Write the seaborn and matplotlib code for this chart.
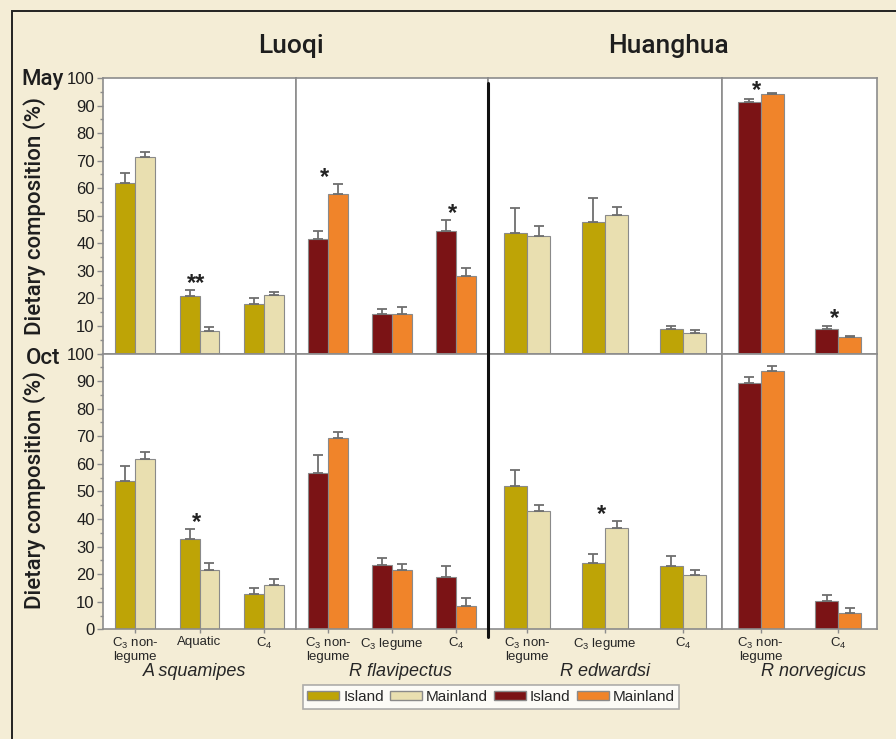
import matplotlib
matplotlib.use("Agg")
import matplotlib.pyplot as plt
import seaborn as sns
import pandas as pd
from matplotlib.patches import Patch, Rectangle
from matplotlib.lines import Line2D
from matplotlib.ticker import MultipleLocator

# --- data ---
species = ["A squamipes", "R flavipectus", "R edwardsi", "R norvegicus"]
sites = ["Luoqi", "Huanghua"]
months = ["May", "Oct"]
origins = ["Island", "Mainland"]

foods_asq = ["C$_3$ non-\nlegume", "Aquatic", "C$_4$"]
foods_rfl = ["C$_3$ non-\nlegume", "C$_3$ legume", "C$_4$"]
foods_red = ["C$_3$ non-\nlegume", "C$_3$ legume", "C$_4$"]
foods_rno = ["C$_3$ non-\nlegume", "C$_4$"]

# May
may_asq_island = [61.8, 20.9, 17.9]
may_asq_island_se = [3.6, 2.0, 2.1]
may_asq_main = [71.3, 8.2, 21.1]
may_asq_main_se = [1.8, 1.4, 1.3]
may_rfl_island = [41.7, 14.2, 44.4]
may_rfl_island_se = [2.6, 2.0, 3.9]
may_rfl_main = [57.8, 14.2, 28.3]
may_rfl_main_se = [3.7, 2.5, 2.6]
may_red_island = [43.8, 47.9, 9.0]
may_red_island_se = [8.9, 8.5, 1.1]
may_red_main = [42.7, 50.4, 7.3]
may_red_main_se = [3.6, 2.7, 1.1]
may_rno_island = [91.2, 9.0]
may_rno_island_se = [1.0, 1.1]
may_rno_main = [94.3, 6.0]
may_rno_main_se = [0.4, 0.4]

# Oct
oct_asq_island = [53.7, 32.7, 12.9]
oct_asq_island_se = [5.5, 3.5, 1.9]
oct_asq_main = [61.6, 21.6, 16.0]
oct_asq_main_se = [2.6, 2.4, 2.2]
oct_rfl_island = [56.7, 23.3, 18.9]
oct_rfl_island_se = [6.5, 2.7, 4.0]
oct_rfl_main = [69.3, 21.5, 8.4]
oct_rfl_main_se = [2.4, 2.1, 2.8]
oct_red_island = [51.9, 24.2, 23.0]
oct_red_island_se = [5.8, 3.2, 3.4]
oct_red_main = [42.9, 36.6, 19.7]
oct_red_main_se = [2.0, 2.5, 1.7]
oct_rno_island = [89.4, 10.4]
oct_rno_island_se = [2.2, 2.0]
oct_rno_main = [93.6, 5.9]
oct_rno_main_se = [1.8, 1.7]

# significance marks
may_stars = [["", "**", ""], ["*", "", "*"], ["", "", ""], ["*", "*"]]
oct_stars = [["", "*", ""], ["", "", ""], ["", "*", ""], ["", ""]]

# --- style ---
BG = "#f4edd6"
OLIVE = "#bea406"
CREAM = "#e9dfb0"
DARKRED = "#7b1315"
ORANGE = "#f0842a"
SPINE = "#8c8c8c"

sns.set_style("ticks")
plt.rcParams["font.family"] = ["Liberation Sans", "DejaVu Sans"]
plt.rcParams["mathtext.fontset"] = "custom"
plt.rcParams["mathtext.rm"] = "Liberation Sans"
plt.rcParams["mathtext.it"] = "Liberation Sans:italic"

W, H = 896, 739
fig = plt.figure(figsize=(W / 100, H / 100), dpi=100, facecolor=BG)

# outer frame (cut off at right/bottom like the source)
fig.patches.append(Rectangle((12 / W, -0.1), 1.2, 1 - 10.5 / H + 0.1, transform=fig.transFigure,
                             fill=False, edgecolor="#222222", linewidth=1.4, zorder=0))

HEAD = dict(family=["Roboto", "Liberation Sans"], fontweight="medium", color="#1e1e1e")


def px(x, y):
    return x / W, 1 - y / H


def draw_panel(ax, foods, isl, isl_se, mai, mai_se, stars, colors, width):
    n = len(foods)
    df = pd.DataFrame({
        "food": foods * 2,
        "origin": ["Island"] * n + ["Mainland"] * n,
        "value": isl + mai,
    })
    sns.barplot(data=df, x="food", y="value", hue="origin", order=foods,
                palette=colors, width=width, saturation=1, errorbar=None,
                edgecolor="#8a8a8a", linewidth=0.8, legend=False, ax=ax, zorder=2)
    for cont, errs in zip(ax.containers, [isl_se, mai_se]):
        for bar, e in zip(cont, errs):
            xc = bar.get_x() + bar.get_width() / 2
            ax.errorbar(xc, bar.get_height(), yerr=[[0], [e]], color="#6e6e6e",
                        capsize=3.5, elinewidth=1.3, capthick=1.3, zorder=3)
    for i, s in enumerate(stars):
        if s:
            top = max(isl[i] + isl_se[i], mai[i] + mai_se[i])
            ax.text(i - 0.05, min(top + 2.5, 95.5), s, ha="center", va="center",
                    fontsize=17, fontweight="bold", color="#222222", zorder=4)
    ax.set_xlim(-0.5, n - 0.5)
    ax.set_ylim(0, 100)
    ax.set_xlabel("")
    ax.set_ylabel("")
    ax.set_facecolor("white")
    for sp in ax.spines.values():
        sp.set_visible(True)
        sp.set_color(SPINE)
        sp.set_linewidth(1.2)


panel_x = [103, 296, 488, 722, 877]
row_y = [(78, 353.5), (353.5, 629.3)]
bar_width = [0.62, 0.62, 0.59, 0.59]
panel_colors = [[OLIVE, CREAM], [DARKRED, ORANGE], [OLIVE, CREAM], [DARKRED, ORANGE]]
panel_foods = [foods_asq, foods_rfl, foods_red, foods_rno]

rows = [
    [(may_asq_island, may_asq_island_se, may_asq_main, may_asq_main_se),
     (may_rfl_island, may_rfl_island_se, may_rfl_main, may_rfl_main_se),
     (may_red_island, may_red_island_se, may_red_main, may_red_main_se),
     (may_rno_island, may_rno_island_se, may_rno_main, may_rno_main_se)],
    [(oct_asq_island, oct_asq_island_se, oct_asq_main, oct_asq_main_se),
     (oct_rfl_island, oct_rfl_island_se, oct_rfl_main, oct_rfl_main_se),
     (oct_red_island, oct_red_island_se, oct_red_main, oct_red_main_se),
     (oct_rno_island, oct_rno_island_se, oct_rno_main, oct_rno_main_se)],
]
row_stars = [may_stars, oct_stars]

for r in range(2):
    y0, y1 = row_y[r]
    for p in range(4):
        x0, x1 = panel_x[p], panel_x[p + 1]
        ax = fig.add_axes([x0 / W, 1 - y1 / H, (x1 - x0) / W, (y1 - y0) / H])
        isl, isl_se, mai, mai_se = rows[r][p]
        draw_panel(ax, panel_foods[p], isl, isl_se, mai, mai_se,
                   row_stars[r][p], panel_colors[p], bar_width[p])
        if p == 0:
            ax.yaxis.set_major_locator(MultipleLocator(10))
            ax.yaxis.set_minor_locator(MultipleLocator(5))
            ax.tick_params(axis="y", which="major", length=4, width=1, color=SPINE,
                           labelsize=12, pad=2, labelcolor="#1e1e1e")
            ax.tick_params(axis="y", which="minor", length=2.5, width=1, color=SPINE)
            if r == 0:
                ax.set_yticks(range(10, 101, 10))
        else:
            ax.tick_params(axis="y", which="both", left=False, labelleft=False)
        if r == 1:
            ax.tick_params(axis="x", length=3, width=1, color=SPINE, labelsize=9.5, pad=2)
            for lab in ax.get_xticklabels():
                lab.set_linespacing(0.95)
        else:
            ax.tick_params(axis="x", length=0, labelbottom=False)

# Luoqi / Huanghua divider
fig.add_artist(Line2D([488 / W, 488 / W], [1 - 83 / H, 1 - 637 / H],
                      color="#111111", linewidth=2.2, zorder=10))

# site titles
fig.text(*px(291, 46), sites[0], ha="center", va="center", fontsize=19, **HEAD)
fig.text(*px(668, 46), sites[1], ha="center", va="center", fontsize=19, **HEAD)

# month labels
fig.text(*px(43, 79), months[0], ha="center", va="center", fontsize=16, **HEAD)
fig.text(*px(43, 358), months[1], ha="center", va="center", fontsize=16, **HEAD)

# y labels
for yc in [216, 490]:
    fig.text(*px(35, yc), "Dietary composition (%)", ha="center", va="center",
             rotation=90, fontsize=16, **HEAD)

# species labels
for xc, name in zip([195, 400, 605, 813], species):
    fig.text(*px(xc, 671), name, ha="center", va="center", fontsize=13, style="italic")

# legend
handles = [Patch(facecolor=OLIVE, edgecolor="#8a8a8a"),
           Patch(facecolor=CREAM, edgecolor="#8a8a8a"),
           Patch(facecolor=DARKRED, edgecolor="#8a8a8a"),
           Patch(facecolor=ORANGE, edgecolor="#8a8a8a")]
leg = fig.legend(handles, origins * 2, loc="center", bbox_to_anchor=px(491, 697), ncol=4,
                 fontsize=11, frameon=True, fancybox=False, handlelength=2.1,
                 handleheight=0.55, handletextpad=0.25, columnspacing=0.4,
                 borderpad=0.3, borderaxespad=0)
leg.get_frame().set_edgecolor("#9a9a9a")
leg.get_frame().set_linewidth(1.2)
leg.get_frame().set_facecolor("white")

plt.savefig("out.png", dpi=100, facecolor=BG)
